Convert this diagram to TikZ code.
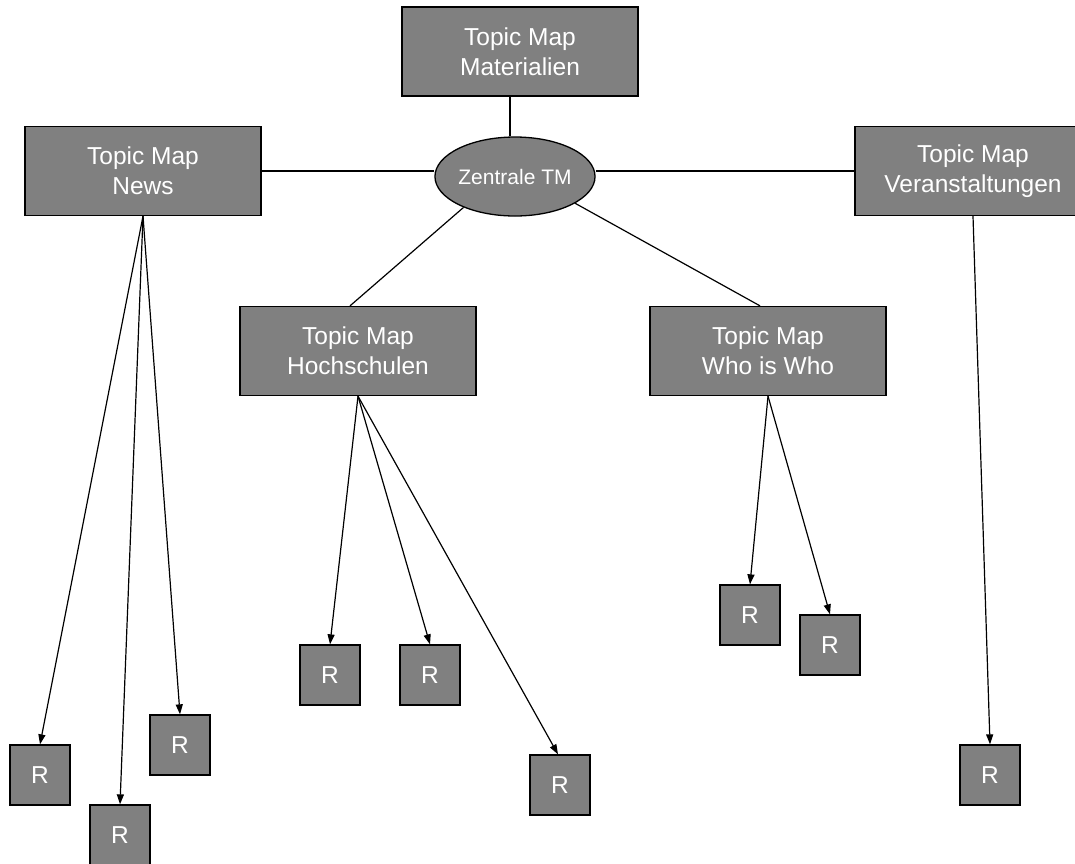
\documentclass[tikz,border=0pt]{standalone}
\usepackage{fontspec}
\setmainfont{Liberation Sans}
\usetikzlibrary{shapes.geometric,arrows.meta}
\definecolor{tmgray}{HTML}{808080}
\tikzset{
  topicbox/.style={draw=black, line width=1.3pt, fill=tmgray, text=white,
    minimum width=236pt, minimum height=89pt, inner sep=0pt, align=center,
    font=\fontsize{24.5}{30}\selectfont},
  zentral/.style={ellipse, draw=black, line width=1.3pt, fill=tmgray, text=white,
    minimum width=150pt, minimum height=79pt, inner sep=0pt,
    font=\fontsize{21}{25}\selectfont},
  rbox/.style={draw=black, line width=1.3pt, fill=tmgray, text=white,
    minimum size=60pt, inner sep=0pt, font=\fontsize{24.5}{29}\selectfont},
  link/.style={line width=1.2pt},
  feed/.style={line width=1.2pt, -{Triangle[length=10pt,width=7pt]}}
}
\begin{document}
\begin{tikzpicture}[x=1pt,y=-1pt]
        \useasboundingbox (0,0) rectangle (1075,863);
        \node [topicbox] (mat)   at (520,51.5)  {Topic Map\\Materialien};      %
        \node [zentral]  (zen)   at (515,176.5) {Zentrale TM};                 %
        \node [topicbox] (news)  at (143,171)   {Topic Map\\News};             %
        \node [topicbox] (veran) at (973,171)   {Topic Map\\Veranstaltungen};  %
        \node [topicbox] (hoch)  at (358,351)   {Topic Map\\Hochschulen};      %
        \node [topicbox] (who)   at (768,351)   {Topic Map\\Who is Who};       %

        \node [rbox] (newsr1)  at (40,775)  {R};  %News
        \node [rbox] (newsr2)  at (120,835) {R};  %
        \node [rbox] (newsr3)  at (180,745) {R};  %
        \node [rbox] (hochr1)  at (330,675) {R};  %Hochschulen
        \node [rbox] (hochr2)  at (430,675) {R};  %
        \node [rbox] (hochr3)  at (560,785) {R};  %
        \node [rbox] (whor1)   at (750,615) {R};  %Who is Who
        \node [rbox] (whor2)   at (830,645) {R};  %
        \node [rbox] (veranr1) at (990,775) {R};  %Veranstaltungen

        \coordinate (matfoot) at (510,96);                               %
        \draw [link] (matfoot) -- (matfoot |- zen.north);                %
        \draw [link] (news.east) -- (news.east -| zen.west);             %
        \draw [link] (zen.east |- veran.west) -- (veran.west);           %
        \draw [link] (zen.211) -- ([xshift=-8pt]hoch.north);             %
        \draw [link] (zen.336) -- ([xshift=-8pt]who.north);              %

        \draw [feed] (news.south) -- (newsr1.north);                     %
        \draw [feed] (news.south) -- (newsr2.north);                     %
        \draw [feed] (news.south) -- (newsr3.north);                     %
        \draw [feed] (hoch.south) -- (hochr1.north);                     %
        \draw [feed] (hoch.south) -- (hochr2.north);                     %
        \draw [feed] (hoch.south) -- ([xshift=-2pt]hochr3.north);        %
        \draw [feed] (who.south)  -- (whor1.north);                      %
        \draw [feed] (who.south)  -- (whor2.north);                      %
        \draw [feed] (veran.south) -- (veranr1.north);                   %
      \end{tikzpicture}
\end{document}
